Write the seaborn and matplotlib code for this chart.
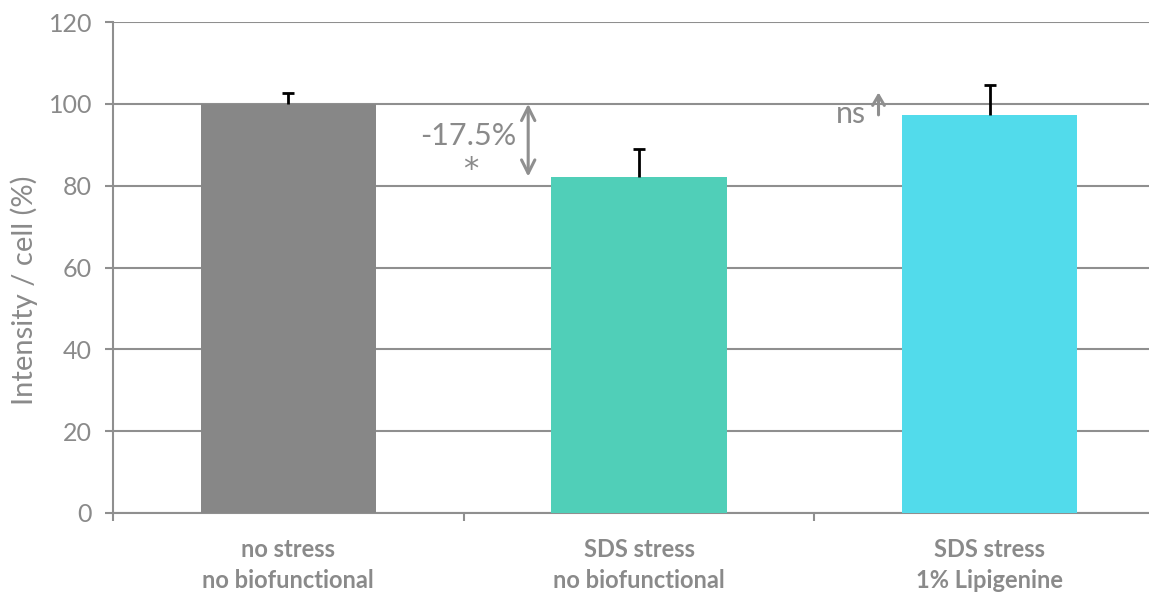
import matplotlib
matplotlib.use("Agg")
import matplotlib.pyplot as plt
import seaborn as sns
import pandas as pd

categories = ["no stress\nno biofunctional", "SDS stress\nno biofunctional", "SDS stress\n1% Lipigenine"]
values = [100.0, 82.0, 97.2]
errors = [2.6, 6.9, 7.3]
colors = ["#878787", "#50CFB8", "#52DBEB"]
yticks = [0, 20, 40, 60, 80, 100, 120]

sns.set_theme(style="white")
plt.rcParams['font.family'] = ['Lato', 'DejaVu Sans']

TXT = "#8a8a8a"
GRID = "#8f8f8f"

fig = plt.figure(figsize=(11.49, 5.95), dpi=100)
ax = fig.add_axes([113 / 1149, 1 - 513 / 595, (1165 - 113) / 1149, 491 / 595])

df = pd.DataFrame({"cat": categories, "val": values})
sns.barplot(data=df, x="cat", y="val", hue="cat", palette=colors, legend=False,
            width=0.5, errorbar=None, ax=ax, zorder=3, saturation=1, linewidth=0)

xs = [p.get_x() + p.get_width() / 2 for p in ax.patches]
tops = [v + e for v, e in zip(values, errors)]
ax.vlines(xs, values, tops, color="black", linewidth=2, zorder=4)
ax.hlines(tops, [x - 0.017 for x in xs], [x + 0.017 for x in xs],
          color="black", linewidth=2, zorder=4)

ax.set_ylim(0, 120)
ax.set_xlim(-0.5, 2.5)
ax.set_yticks(yticks)
ax.set_yticklabels([str(t) for t in yticks])
ax.yaxis.grid(True, color=GRID, linewidth=1.5, zorder=0)
ax.set_axisbelow(True)

for s in ["top", "right"]:
    ax.spines[s].set_visible(False)
for s in ["left", "bottom"]:
    ax.spines[s].set_color(GRID)
    ax.spines[s].set_linewidth(1.5)

ax.tick_params(axis="y", which="major", length=6, width=1.5, color=GRID,
               labelsize=18, labelcolor=TXT, pad=9, left=True)
ax.set_xticks([-0.5, 0.5, 1.5, 2.5])
ax.set_xticklabels([])
ax.tick_params(axis="x", which="major", length=6, width=1.5, color=GRID, bottom=True)
ax.set_xticks([0, 1, 2], minor=True)
ax.set_xticklabels(categories, minor=True, fontsize=17, fontweight="bold", color=TXT,
                   linespacing=1.4)
ax.tick_params(axis="x", which="minor", length=0, pad=18)

ax.set_xlabel("")
ax.set_ylabel("Intensity / cell (%)", fontsize=21, color=TXT)
ax.yaxis.set_label_coords(-0.071, 0.454)

# annotations
ax.annotate("", xy=(0.684, values[1] + 0.2), xytext=(0.684, 100.0),
            arrowprops=dict(arrowstyle="<->,head_length=0.8,head_width=0.4",
                            color=GRID, lw=2.2, shrinkA=0, shrinkB=0), zorder=5)
ax.text(0.65, 92.2, "-17.5%", ha="right", va="center", fontsize=22, color=TXT)
ax.text(0.519, 84.0, "*", ha="center", va="center", fontsize=22, color=TXT,
        family="DejaVu Sans")
ax.annotate("", xy=(1.683, 102.8), xytext=(1.683, 97.3),
            arrowprops=dict(arrowstyle="->,head_length=0.6,head_width=0.35",
                            color=GRID, lw=2.2, shrinkA=0, shrinkB=0), zorder=5)
ax.text(1.648, 97.6, "ns", ha="right", va="center", fontsize=22, color=TXT)

fig.savefig("out.png", dpi=100)
